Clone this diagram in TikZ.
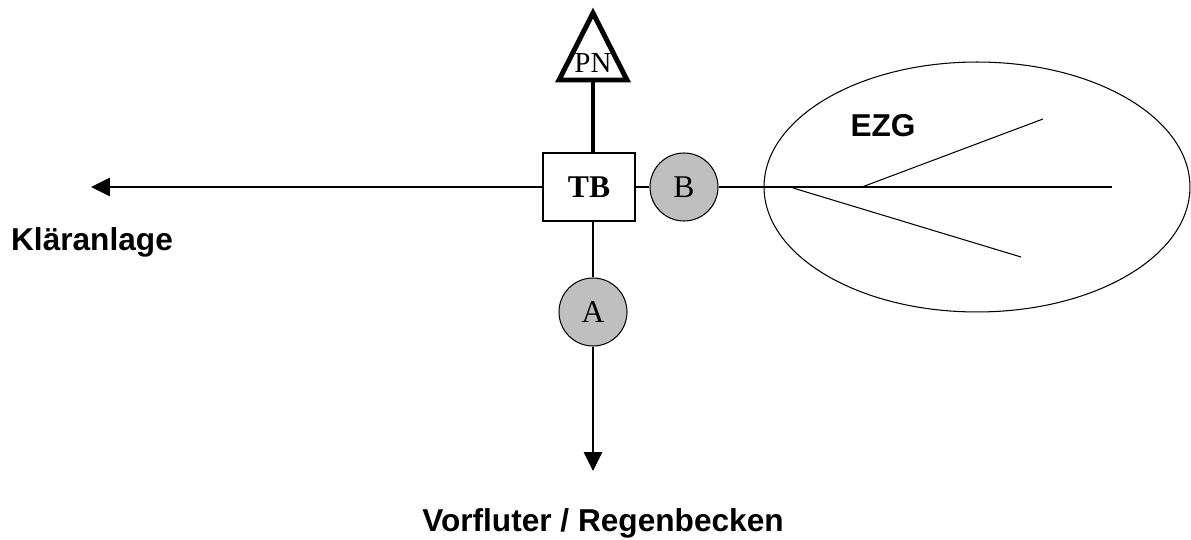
\documentclass[tikz,border=0pt]{standalone}
\usepackage{fontspec}
\setmainfont{Liberation Serif}
\setsansfont{Liberation Sans}
\usetikzlibrary{arrows.meta, shapes.geometric}

\tikzset{
  messstelle/.style={circle, draw, fill=gray!50, minimum size=1.36cm, inner sep=0pt,
    font=\fontsize{18}{20}\selectfont},
  beschriftung/.style={font=\sffamily\bfseries\fontsize{18}{22}\selectfont},
  pfeil/.style={-{Triangle[length=0.38cm,width=0.37cm]}}
}

\begin{document}
\begin{tikzpicture}[x=0.02cm, y=-0.02cm, line width=0.6pt]
  \useasboundingbox (0,0) rectangle (1191,540);

  % Bauwerk und Messstellen
  \node[draw, minimum width=1.84cm, minimum height=1.36cm,
    font=\bfseries\fontsize{18}{20}\selectfont] (tb) at (589,187) {TB};
  \node[messstelle] (b) at (684,187) {B};
  \node[messstelle] (a) at (593,312) {A};

  % Einzugsgebiet
  \node[draw, ellipse, minimum width=8.52cm, minimum height=5cm] (ezg) at (977,187) {};
  \node[beschriftung] (ezgtext) at (883,126) {EZG};
  \coordinate (ende) at (1112,187);
  \coordinate (ast1) at (862,187);
  \coordinate (spitze1) at (1043,119);
  \coordinate (ast2) at (793,188);
  \coordinate (spitze2) at (1021,257);

  % Pegel
  \coordinate (pnfuss) at (593,80);
  \draw[line width=2.8pt, line join=miter] (593,13) -- (627,80) -- (559,80) -- cycle;
  \node[font=\fontsize{16.5}{18}\selectfont] (pn) at (593,63) {PN};
  \draw[line width=2.3pt] (pnfuss) -- (tb.north -| pnfuss);

  % Ziele
  \coordinate (ka) at (91,187);
  \coordinate (vf) at (593,471);
  \node[beschriftung] (klaer) at (92,242) {Kläranlage};
  \node[beschriftung] (vorfluter) at (603,523) {Vorfluter / Regenbecken};

  \draw[pfeil] (tb.west) -- (ka);
  \draw (tb.east) -- (b.west);
  \draw (b.east) -- (ende);
  \draw (ast1) -- (spitze1);
  \draw (ast2) -- (spitze2);
  \draw (tb.south -| a) -- (a.north);
  \draw[pfeil] (a.south) -- (vf);
\end{tikzpicture}
\end{document}
